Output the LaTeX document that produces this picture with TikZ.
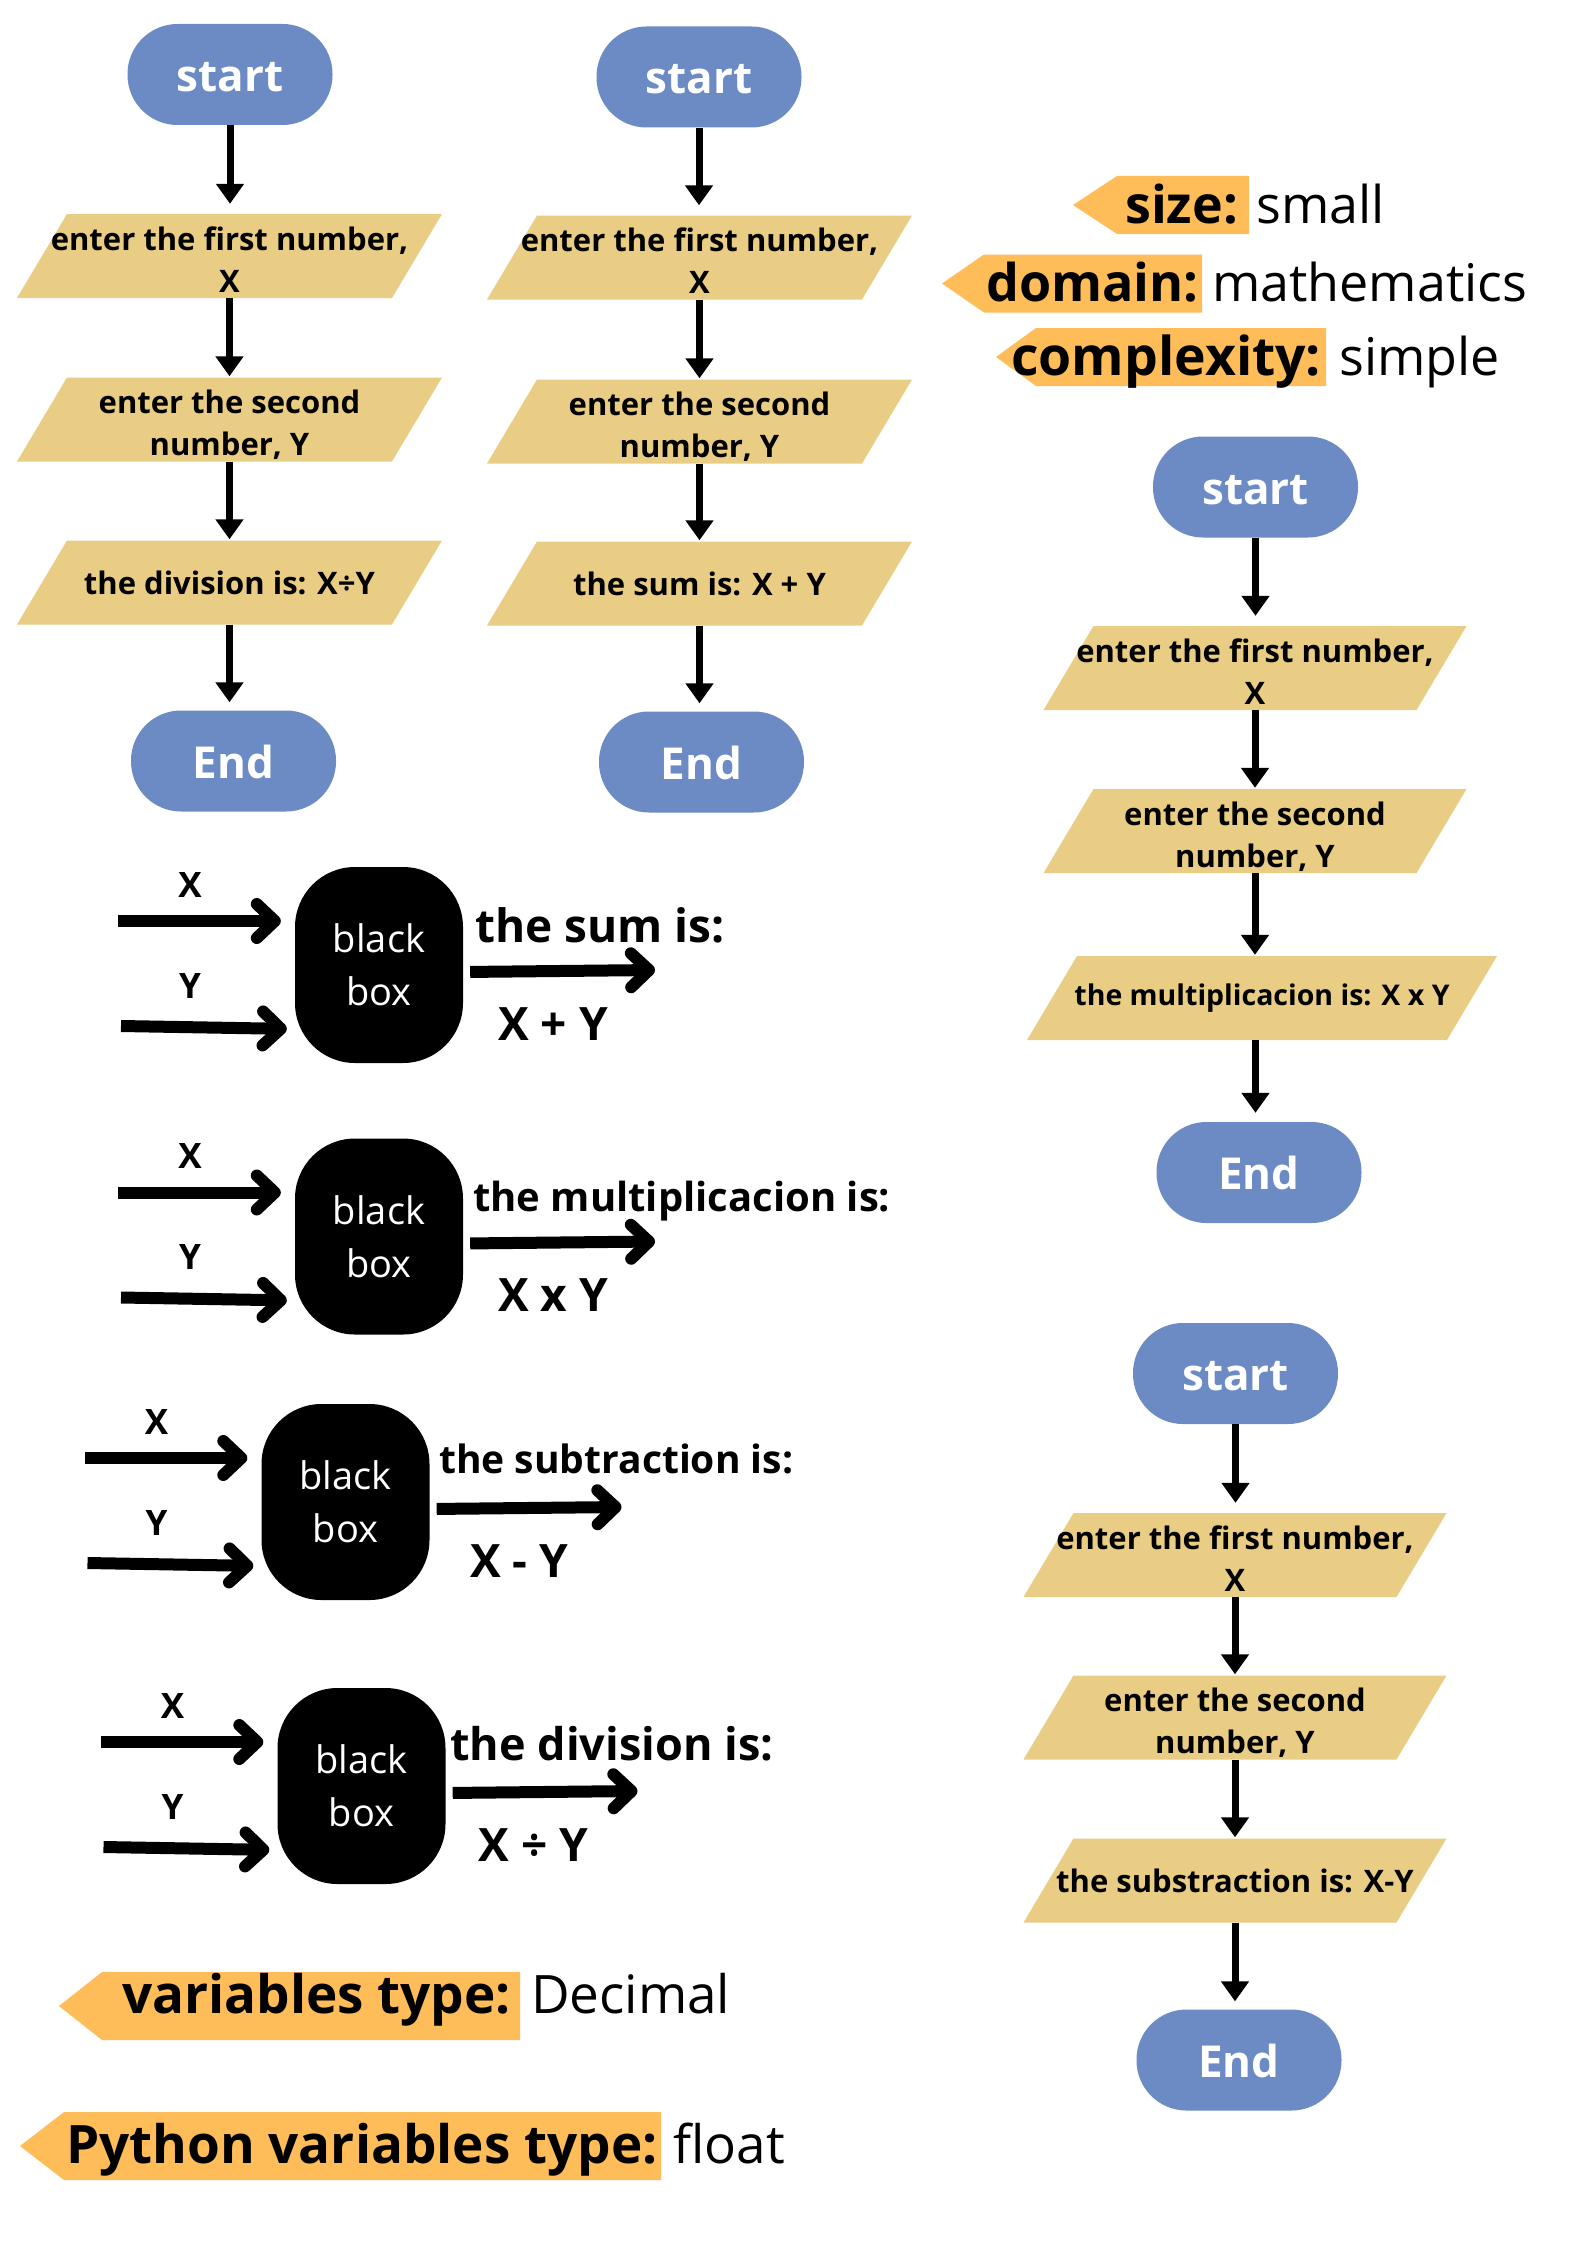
\documentclass[tikz,border=0pt]{standalone}
\usepackage{fontspec}
\setmainfont{Open Sans}
\usetikzlibrary{arrows.meta,calc}
\definecolor{pillblue}{RGB}{108,139,196}
\definecolor{parayel}{RGB}{234,205,132}
\definecolor{tagorange}{RGB}{255,189,89}
\newcommand\fsz[2]{\fontsize{#1}{#2}\selectfont}
\begin{document}
\begin{tikzpicture}[x=1pt,y=-1pt,
  pill/.style={fill=pillblue, rounded corners=50pt, minimum width=205pt, minimum height=101pt, inner sep=0pt, text=white, text height=34pt, text depth=0pt, font=\bfseries\fsz{44}{50}},
  para/.style={minimum width=425pt, minimum height=84pt, inner sep=0pt, align=center, font=\bfseries\fsz{31}{42},
    path picture={\fill[parayel] ([xshift=50pt]path picture bounding box.north west) -- (path picture bounding box.north east) -- ([xshift=-50pt]path picture bounding box.south east) -- (path picture bounding box.south west) -- cycle;}},
  paratwo/.style={para, text height=72pt, text depth=0pt},
  flow/.style={line width=7pt, -{Triangle[width=27pt,length=20pt]}},
  bbox/.style={fill=black, rounded corners=60pt, minimum width=168pt, minimum height=196pt, inner sep=0pt, text=white, align=center, font=\fsz{38}{53}},
  bbarrow/.style={line width=12pt, -{Straight Barb[round,length=18pt,width=34pt]}},
  lbl/.style={font=\bfseries\fsz{35}{40}, inner sep=0pt, anchor=base},
  head/.style={inner sep=0pt, anchor=base west},
  tagbold/.style={font=\bfseries\fsz{52}{60}, inner sep=0pt, anchor=base west},
  tagreg/.style={font=\fsz{52}{60}, inner sep=0pt, anchor=base west},
  tagfill/.style={fill=tagorange}
]
\fill[white] (0,0) rectangle (1587,2245);
\useasboundingbox (0,0) rectangle (1587,2245);

% ---------- column 1 ----------
\node[pill] (s1) at (230,74.5) {start};
\node[paratwo] (a1) at (229.5,256) {enter the first number,\\X};
\node[paratwo] (b1) at (229.5,419.5) {enter the second\\number, Y};
\node[para] (c1) at (229.5,582.5) {the division is: X÷Y};
\node[pill] (e1) at (233.5,761) {End};
\draw[flow, shorten >=10pt] (s1.south) -- (s1.south |- a1.north);
\draw[flow, shorten >=1pt] (a1.south) -- (a1.south |- b1.north);
\draw[flow, shorten >=1pt] (b1.south) -- (b1.south |- c1.north);
\draw[flow, shorten >=8pt] (c1.south) -- (c1.south |- e1.north);

% ---------- column 2 ----------
\node[pill] (s2) at (699,77) {start};
\node[paratwo] (a2) at (699.5,257.5) {enter the first number,\\X};
\node[paratwo] (b2) at (699.5,421.5) {enter the second\\number, Y};
\node[para] (c2) at (699.5,583.5) {the sum is: X + Y};
\node[pill] (e2) at (701.5,762) {End};
\draw[flow, shorten >=10pt] (s2.south) -- (s2.south |- a2.north);
\draw[flow, shorten >=1pt] (a2.south) -- (a2.south |- b2.north);
\draw[flow, shorten >=1pt] (b2.south) -- (b2.south |- c2.north);
\draw[flow, shorten >=8pt] (c2.south) -- (c2.south |- e2.north);

% ---------- column 3 ----------
\node[pill] (s3) at (1255.5,487) {start};
\node[paratwo, minimum width=423pt] (a3) at (1255,668) {enter the first number,\\X};
\node[paratwo, minimum width=423pt] (b3) at (1255,831) {enter the second\\number, Y};
\node[para, minimum width=470pt, font=\bfseries\fsz{28.5}{40}] (c3) at (1262,998) {the multiplicacion is: X x Y};
\node[pill] (e3) at (1259,1172.5) {End};
\draw[flow, shorten >=10pt] (s3.south) -- (s3.south |- a3.north);
\draw[flow, shorten >=1pt] (a3.south) -- (a3.south |- b3.north);
\draw[flow, shorten >=1pt] (b3.south) -- (b3.south |- c3.north);
\draw[flow, shorten >=9pt] (s3.south |- c3.south) -- (s3.south |- e3.north);

% ---------- column 4 ----------
\node[pill] (s4) at (1235.5,1373.5) {start};
\node[paratwo, minimum width=423pt] (a4) at (1235,1555) {enter the first number,\\X};
\node[paratwo, minimum width=423pt] (b4) at (1235,1717.5) {enter the second\\number, Y};
\node[para, minimum width=423pt] (c4) at (1235,1880.5) {the substraction is: X-Y};
\node[pill] (e4) at (1239,2060) {End};
\draw[flow, shorten >=10pt] (s4.south) -- (s4.south |- a4.north);
\draw[flow, shorten >=1pt] (a4.south) -- (a4.south |- b4.north);
\draw[flow, shorten >=1pt] (b4.south) -- (b4.south |- c4.north);
\draw[flow, shorten >=8pt] (c4.south) -- (c4.south |- e4.north);

% ---------- black box 1 ----------
\node[bbox] (bb1) at (379,965) {black\\box};
\node[lbl] (xl1) at (190,897) {X};
\node[lbl] (yl1) at (190,998) {Y};
\coordinate (xs1) at (118,921);
\coordinate (ys1) at (121,1026);
\coordinate (oe1) at (655,970);
\draw[bbarrow, shorten >=14pt] (xs1) -- (xs1 -| bb1.west);
\draw[bbarrow, shorten >=8pt] (ys1) -- ([yshift=-64pt]bb1.west);
\draw[bbarrow, shorten <=7pt] ([yshift=-7pt]bb1.east) -- (oe1);
\node[head, font=\bfseries\fsz{46}{50}] (h1) at (475,942) {the sum is:};
\node[head, font=\bfseries\fsz{46}{50}] (r1) at (498,1040) {X + Y};

% ---------- black box 2 ----------
\node[bbox] (bb2) at (379,1236.5) {black\\box};
\node[lbl] (xl2) at (190,1168.5) {X};
\node[lbl] (yl2) at (190,1269.5) {Y};
\coordinate (xs2) at (118,1192.5);
\coordinate (ys2) at (121,1297.5);
\coordinate (oe2) at (655,1241.5);
\draw[bbarrow, shorten >=14pt] (xs2) -- (xs2 -| bb2.west);
\draw[bbarrow, shorten >=8pt] (ys2) -- ([yshift=-64pt]bb2.west);
\draw[bbarrow, shorten <=7pt] ([yshift=-7pt]bb2.east) -- (oe2);
\node[head, font=\bfseries\fsz{40}{46}] (h2) at (473,1211) {the multiplicacion is:};
\node[head, font=\bfseries\fsz{46}{50}] (r2) at (498,1311) {X x Y};

% ---------- black box 3 ----------
\node[bbox] (bb3) at (345.5,1502) {black\\box};
\node[lbl] (xl3) at (156.5,1434) {X};
\node[lbl] (yl3) at (156.5,1535) {Y};
\coordinate (xs3) at (84.5,1458);
\coordinate (ys3) at (87.5,1563);
\coordinate (oe3) at (621.5,1507);
\draw[bbarrow, shorten >=14pt] (xs3) -- (xs3 -| bb3.west);
\draw[bbarrow, shorten >=8pt] (ys3) -- ([yshift=-64pt]bb3.west);
\draw[bbarrow, shorten <=7pt] ([yshift=-7pt]bb3.east) -- (oe3);
\node[head, font=\bfseries\fsz{39}{45}] (h3) at (439,1473) {the subtraction is:};
\node[head, font=\bfseries\fsz{46}{50}] (r3) at (470,1577) {X - Y};

% ---------- black box 4 ----------
\node[bbox] (bb4) at (361.5,1786) {black\\box};
\node[lbl] (xl4) at (172.5,1718) {X};
\node[lbl] (yl4) at (172.5,1819) {Y};
\coordinate (xs4) at (100.5,1742);
\coordinate (ys4) at (103.5,1847);
\coordinate (oe4) at (637.5,1791);
\draw[bbarrow, shorten >=14pt] (xs4) -- (xs4 -| bb4.west);
\draw[bbarrow, shorten >=8pt] (ys4) -- ([yshift=-64pt]bb4.west);
\draw[bbarrow, shorten <=7pt] ([yshift=-7pt]bb4.east) -- (oe4);
\node[head, font=\bfseries\fsz{45}{50}] (h4) at (450,1760) {the division is:};
\node[head, font=\bfseries\fsz{46}{50}] (r4) at (478.6,1861) {X ÷ Y};

% ---------- tags top right ----------
\fill[tagfill] (1073,205) -- (1117,176) -- (1249,176) -- (1249,234) -- (1117,234) -- cycle;
\node[tagbold] (tsize) at (1125,223) {size:};
\node[tagreg] (vsize) at (1256,223) {small};
\fill[tagfill] (942,283.5) -- (984,254.5) -- (1202,254.5) -- (1202,312.5) -- (984,312.5) -- cycle;
\node[tagbold] (tdom) at (986,301.5) {domain:};
\node[tagreg] (vdom) at (1212,301.5) {mathematics};
\fill[tagfill] (996,357) -- (1036,328) -- (1326,328) -- (1326,386) -- (1036,386) -- cycle;
\node[tagbold, font=\bfseries\fsz{53.5}{60}] (tcpx) at (1011,375) {complexity:};
\node[tagreg] (vcpx) at (1339,375) {simple};

% ---------- tags bottom left ----------
\fill[tagfill] (59,2006) -- (102,1972) -- (520,1972) -- (520,2040) -- (102,2040) -- cycle;
\node[tagbold, font=\bfseries\fsz{53}{60}] (tvar) at (122,2013) {variables type:};
\node[tagreg, font=\fsz{53}{60}] (vvar) at (531,2013) {Decimal};
\fill[tagfill] (20,2146) -- (64,2112) -- (661,2112) -- (661,2180) -- (64,2180) -- cycle;
\node[tagbold, font=\bfseries\fsz{53}{60}] (tpy) at (66,2163) {Python variables type:};
\node[tagreg, font=\fsz{53}{60}] (vpy) at (673,2163) {float};
\end{tikzpicture}
\end{document}
